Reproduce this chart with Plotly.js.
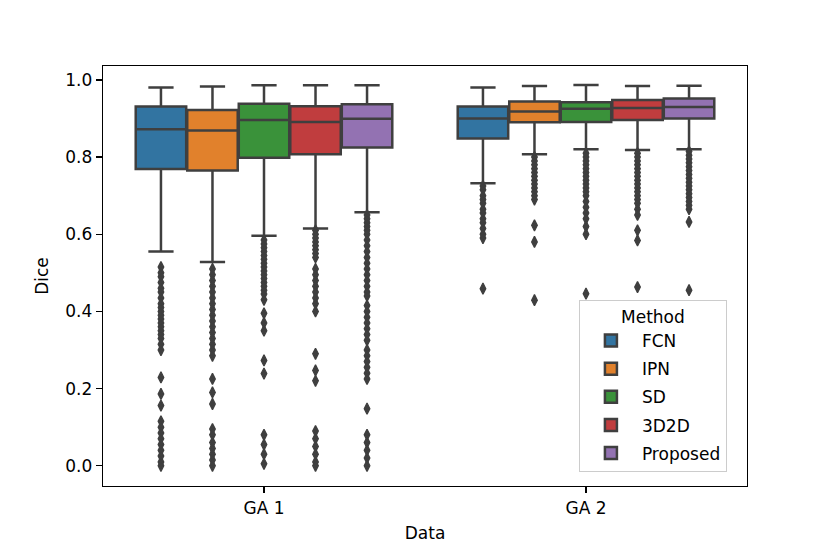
<!DOCTYPE html>
<html>
<head>
<meta charset="utf-8">
<script src="https://cdn.plot.ly/plotly-3.0.1.min.js"></script>
<style>html,body{margin:0;padding:0;background:#fff;}#chart{width:830px;height:554px;}</style>
</head>
<body>
<div id="chart"></div>
<script>
// ---- data ----
const groups = ['GA 1', 'GA 2'];
const methods = ['FCN', 'IPN', 'SD', '3D2D', 'Proposed'];
const colors = ['#3274a1', '#e1812c', '#3a923a', '#c03d3e', '#9372b2'];

// per method: [GA1, GA2]
const q1 =         { FCN: [0.769, 0.848], IPN: [0.765, 0.890], SD: [0.798, 0.891], '3D2D': [0.807, 0.896], Proposed: [0.825, 0.900] };
const median =     { FCN: [0.872, 0.900], IPN: [0.869, 0.918], SD: [0.896, 0.925], '3D2D': [0.891, 0.927], Proposed: [0.899, 0.930] };
const q3 =         { FCN: [0.931, 0.931], IPN: [0.922, 0.944], SD: [0.938, 0.942], '3D2D': [0.932, 0.948], Proposed: [0.937, 0.952] };
const lowerfence = { FCN: [0.555, 0.732], IPN: [0.528, 0.807], SD: [0.596, 0.820], '3D2D': [0.615, 0.818], Proposed: [0.657, 0.820] };
const upperfence = { FCN: [0.980, 0.980], IPN: [0.983, 0.984], SD: [0.986, 0.987], '3D2D': [0.986, 0.984], Proposed: [0.986, 0.985] };

const outliersGA1 = {
  FCN: [0.515, 0.50, 0.49, 0.475, 0.46, 0.45, 0.435, 0.42, 0.41, 0.40, 0.39, 0.38, 0.37, 0.36, 0.35, 0.34, 0.33, 0.315, 0.30,
        0.229, 0.186, 0.156, 0.115, 0.10, 0.085, 0.07, 0.055, 0.04, 0.025, 0.01, 0.0],
  IPN: [0.51, 0.495, 0.48, 0.465, 0.45, 0.435, 0.42, 0.405, 0.39, 0.375, 0.36, 0.345, 0.33, 0.315, 0.30, 0.285,
        0.225, 0.19, 0.16, 0.095, 0.08, 0.06, 0.045, 0.03, 0.015, 0.0],
  SD: [0.585, 0.575, 0.565, 0.555, 0.545, 0.535, 0.525, 0.515, 0.505, 0.495, 0.485, 0.475, 0.465, 0.455, 0.445, 0.43,
       0.395, 0.37, 0.35, 0.273, 0.239, 0.08, 0.055, 0.03, 0.005],
  '3D2D': [0.61, 0.60, 0.59, 0.58, 0.57, 0.56, 0.55, 0.54, 0.51, 0.495, 0.48, 0.465, 0.45, 0.435, 0.42, 0.40,
           0.29, 0.247, 0.22, 0.09, 0.07, 0.05, 0.03, 0.01, 0.0],
  Proposed: [0.65, 0.64, 0.63, 0.62, 0.61, 0.60, 0.585, 0.57, 0.555, 0.54, 0.525, 0.51, 0.495, 0.48, 0.465, 0.45, 0.44,
             0.415, 0.40, 0.385, 0.37, 0.355, 0.34, 0.325, 0.30, 0.285, 0.27, 0.255, 0.24, 0.225,
             0.148, 0.08, 0.06, 0.04, 0.02, 0.0]
};
const outliersGA2 = {
  FCN: [0.725, 0.715, 0.70, 0.69, 0.68, 0.665, 0.655, 0.64, 0.63, 0.615, 0.60, 0.59, 0.459],
  IPN: [0.80, 0.79, 0.78, 0.77, 0.76, 0.75, 0.74, 0.73, 0.72, 0.71, 0.70, 0.69, 0.623, 0.58, 0.429],
  SD: [0.81, 0.80, 0.79, 0.78, 0.77, 0.76, 0.75, 0.74, 0.73, 0.72, 0.71, 0.70, 0.685, 0.67, 0.655, 0.64, 0.62, 0.60, 0.446],
  '3D2D': [0.81, 0.80, 0.79, 0.78, 0.77, 0.76, 0.75, 0.74, 0.73, 0.72, 0.71, 0.70, 0.69, 0.68, 0.665, 0.65, 0.61, 0.584, 0.463],
  Proposed: [0.815, 0.805, 0.795, 0.785, 0.775, 0.765, 0.755, 0.745, 0.735, 0.725, 0.715, 0.705, 0.695, 0.685, 0.675, 0.665, 0.632, 0.455]
};
const outliers = [outliersGA1, outliersGA2];

const yTickVals = [0.0, 0.2, 0.4, 0.6, 0.8, 1.0];

// ---- build traces ----
const groupWidth = 0.8;
const nM = methods.length;
const step = groupWidth / nM;
const lineCol = '#3f3f3f';
const traces = [];

methods.forEach((m, i) => {
  const offset = -groupWidth / 2 + step / 2 + i * step;
  const xs = groups.map((g, gi) => gi + offset);
  traces.push({
    type: 'box',
    name: m,
    legendgroup: m,
    x: xs,
    q1: q1[m], median: median[m], q3: q3[m],
    lowerfence: lowerfence[m], upperfence: upperfence[m],
    width: step * 0.98,
    whiskerwidth: 0.5,
    fillcolor: colors[i],
    line: { color: lineCol, width: 2.5 },
    boxpoints: false,
    hoverinfo: 'skip'
  });
  const ox = [], oy = [];
  groups.forEach((g, gi) => {
    outliers[gi][m].forEach(v => { ox.push(gi + offset); oy.push(v); });
  });
  traces.push({
    type: 'scatter',
    mode: 'markers',
    x: ox, y: oy,
    legendgroup: m,
    showlegend: false,
    marker: { symbol: 'diamond-tall', size: 8, color: lineCol, line: { width: 1.3, color: lineCol } },
    hoverinfo: 'skip'
  });
});

const font = { family: 'DejaVu Sans, sans-serif', size: 17, color: '#000' };

const layout = {
  width: 830, height: 554,
  paper_bgcolor: '#fff', plot_bgcolor: '#fff',
  margin: { l: 103, r: 83, t: 66, b: 68 },
  font: font,
  showlegend: true,
  xaxis: {
    range: [-0.5, 1.5],
    tickvals: groups.map((g, i) => i),
    ticktext: groups,
    ticks: 'outside', ticklen: 6, tickwidth: 1.3, tickcolor: '#000',
    showline: true, linecolor: '#000', linewidth: 1.3, mirror: true,
    showgrid: false, zeroline: false,
    title: { text: 'Data', font: font, standoff: 10 }
  },
  yaxis: {
    range: [-0.0525, 1.036],
    tickvals: yTickVals,
    ticktext: yTickVals.map(v => v.toFixed(1)),
    ticks: 'outside', ticklen: 6, tickwidth: 1.3, tickcolor: '#000',
    showline: true, linecolor: '#000', linewidth: 1.3, mirror: true,
    showgrid: false, zeroline: false,
    title: { text: 'Dice', font: font, standoff: 12 }
  },
  legend: {
    x: 0.739, y: 0.443, xanchor: 'left', yanchor: 'top',
    bgcolor: 'rgba(255,255,255,0.8)', bordercolor: '#cccccc', borderwidth: 1,
    font: font,
    title: { text: 'Method', side: 'top center', font: font },
    tracegroupgap: 3,
    itemwidth: 52
  }
};

Plotly.newPlot('chart', traces, layout, { displayModeBar: false, staticPlot: true });
</script>
</body>
</html>
